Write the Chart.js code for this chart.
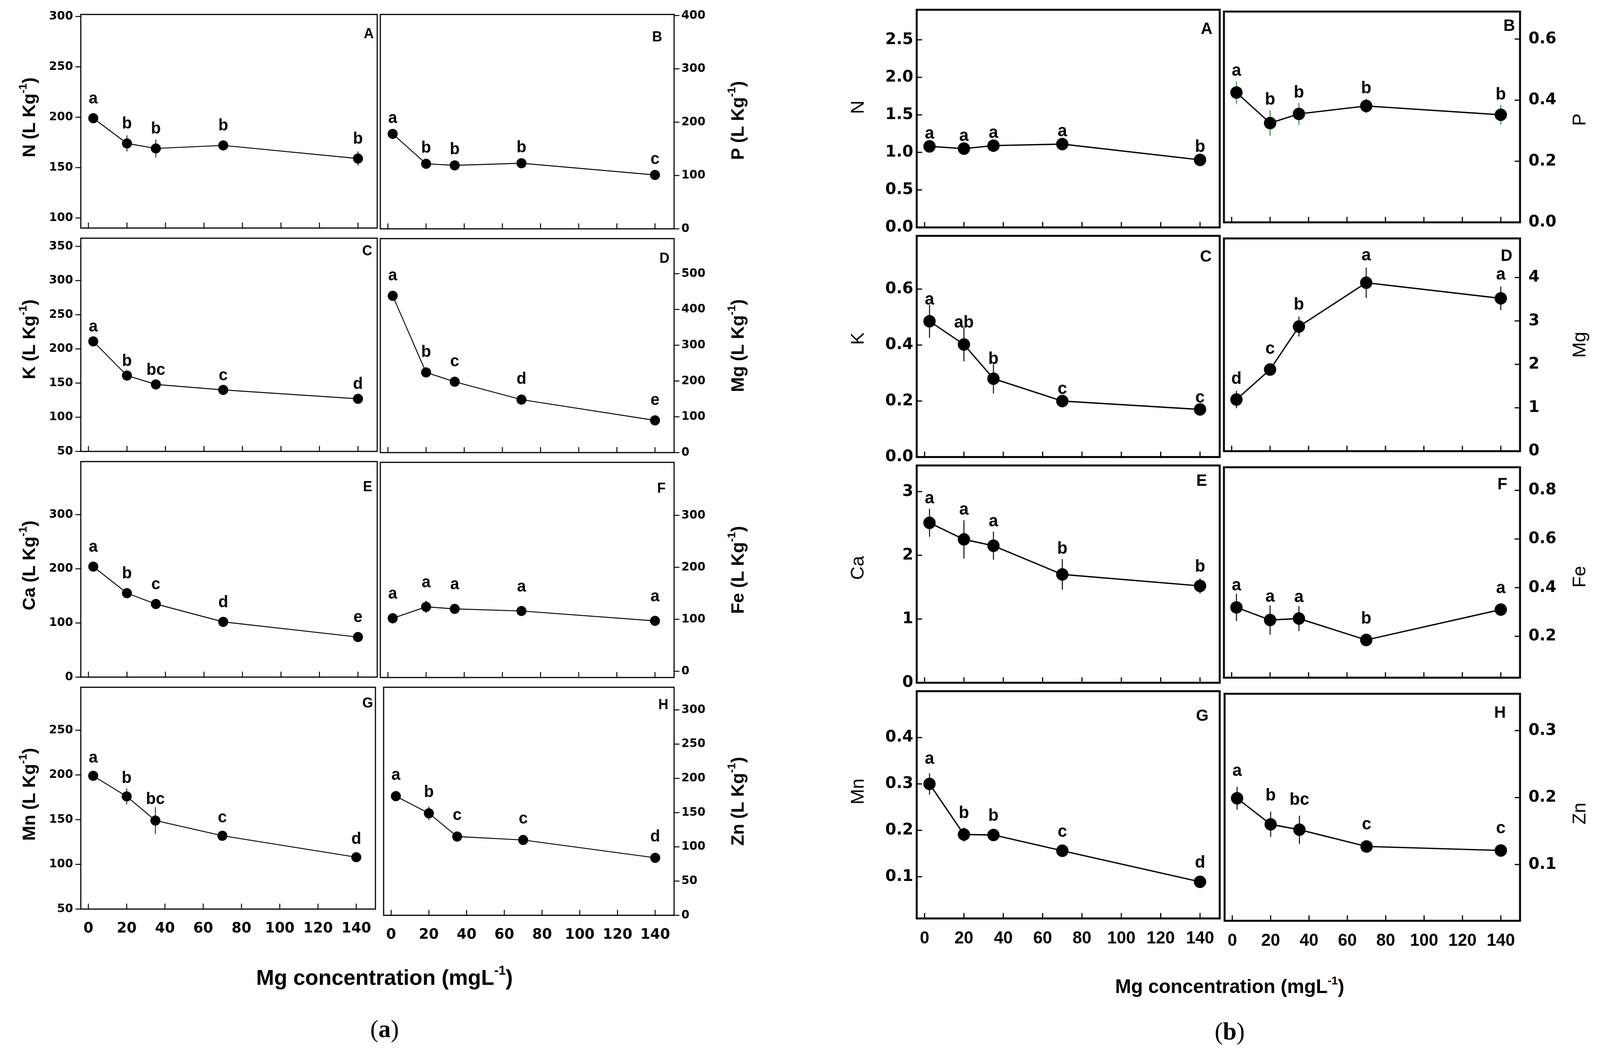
<!DOCTYPE html>
<html><head><meta charset="utf-8">
<script src="https://cdn.jsdelivr.net/npm/chart.js@4.4.1/dist/chart.umd.min.js"></script>
<style>
html,body{margin:0;padding:0;background:#fff;width:100%;height:100%;overflow:hidden;font-family:"Liberation Sans",Arial,sans-serif;}
#root{position:absolute;left:0;top:0;width:4161px;height:2694px;transform-origin:0 0;background:#fff;}
canvas{position:absolute;}
.xt{position:absolute;transform:translate(-50%,-50%);white-space:nowrap;font-weight:bold;color:#000;}
.xt sup{font-size:60%;vertical-align:0.75em;line-height:0;}
.cap{position:absolute;transform:translate(-50%,-50%);font-family:"Liberation Serif","Times New Roman",serif;white-space:nowrap;color:#000;}
</style></head><body>
<div id="root">
<div class="xt" style="left:1000px;top:2502px;font-size:56px">Mg concentration (mgL<sup>-1</sup>)</div>
<div class="xt" style="left:3198px;top:2526px;font-size:50px">Mg concentration (mgL<sup>-1</sup>)</div>
<div class="cap" style="left:1000px;top:2635px;font-size:64px">(<b>a</b>)</div>
<div class="cap" style="left:3198px;top:2641px;font-size:64px">(<b>b</b>)</div>
</div>
<script>
// ---------- DATA ----------
const xConc = [2.5, 20, 35, 70, 140];
const xTickValues = [0, 20, 40, 60, 80, 100, 120, 140];

// panel (a)  (L Kg-1)
const aN = [199, 174, 169, 172, 159];   const aN_err = [4, 8, 9, 5, 7];    const aN_sig = ['a','b','b','b','b'];   const aN_ticks = [100,150,200,250,300];
const aP = [178, 122, 119, 123, 101];   const aP_err = [5, 5, 4, 4, 4];    const aP_sig = ['a','b','b','b','c'];   const aP_ticks = [0,100,200,300,400];
const aK = [211, 161, 148, 140, 127];   const aK_err = [4, 5, 7, 4, 3];    const aK_sig = ['a','b','bc','c','d'];  const aK_ticks = [50,100,150,200,250,300,350];
const aMg = [438, 224, 198, 148, 90];   const aMg_err = [8, 8, 8, 6, 5];   const aMg_sig = ['a','b','c','d','e'];  const aMg_ticks = [0,100,200,300,400,500];
const aCa = [204, 155, 135, 102, 74];   const aCa_err = [5, 4, 4, 4, 3];   const aCa_sig = ['a','b','c','d','e'];  const aCa_ticks = [0,100,200,300];
const aFe = [102, 124, 120, 116, 97];   const aFe_err = [10, 12, 9, 6, 6]; const aFe_sig = ['a','a','a','a','a'];  const aFe_ticks = [0,100,200,300];
const aMn = [199, 176, 149, 132, 108];  const aMn_err = [5, 9, 15, 4, 3];  const aMn_sig = ['a','b','bc','c','d']; const aMn_ticks = [50,100,150,200,250];
const aZn = [174, 149, 115, 110, 84];   const aZn_err = [5, 10, 7, 4, 3];  const aZn_sig = ['a','b','c','c','d'];  const aZn_ticks = [0,50,100,150,200,250,300];

// panel (b)
const bN = [1.08, 1.05, 1.09, 1.11, 0.90];      const bN_err = [0.04, 0.03, 0.06, 0.03, 0.03];      const bN_sig = ['a','a','a','a','b'];   const bN_ticks = [0,0.5,1,1.5,2,2.5];
const bP = [0.425, 0.325, 0.355, 0.381, 0.352]; const bP_err = [0.037, 0.042, 0.036, 0.024, 0.032]; const bP_sig = ['a','b','b','b','b'];   const bP_ticks = [0,0.2,0.4,0.6];
const bK = [0.485, 0.402, 0.28, 0.20, 0.17];    const bK_err = [0.059, 0.06, 0.053, 0.02, 0.01];    const bK_sig = ['a','ab','b','c','c'];  const bK_ticks = [0,0.2,0.4,0.6];
const bMg = [1.19, 1.88, 2.87, 3.88, 3.52];     const bMg_err = [0.2, 0.1, 0.23, 0.35, 0.27];       const bMg_sig = ['d','c','b','a','a'];  const bMg_ticks = [0,1,2,3,4];
const bCa = [2.51, 2.25, 2.15, 1.70, 1.52];     const bCa_err = [0.22, 0.30, 0.22, 0.24, 0.12];     const bCa_sig = ['a','a','a','b','b'];  const bCa_ticks = [0,1,2,3];
const bFe = [0.319, 0.267, 0.273, 0.185, 0.31]; const bFe_err = [0.056, 0.06, 0.052, 0.015, 0.01];  const bFe_sig = ['a','a','a','b','a'];  const bFe_ticks = [0.2,0.4,0.6,0.8];
const bMn = [0.30, 0.191, 0.19, 0.156, 0.089];  const bMn_err = [0.023, 0.015, 0.005, 0.01, 0.005]; const bMn_sig = ['a','b','b','c','d'];  const bMn_ticks = [0.1,0.2,0.3,0.4];
const bZn = [0.199, 0.16, 0.152, 0.127, 0.121]; const bZn_err = [0.017, 0.019, 0.021, 0.005, 0.004];const bZn_sig = ['a','b','bc','c','c'];const bZn_ticks = [0.1,0.2,0.3];

// ---------- LAYOUT / STYLE ----------
const SANS = '"Liberation Sans", Arial, sans-serif';
const DEJA = '"DejaVu Sans", sans-serif';
const PA = {
  cols: [[210, 982], [988, 1753]],
  rows: [[37, 610, 1182, 1760, 2328], [37, 611, 1184, 1760, 2344]],
  yW: [180, 210], yPad: [20, 19], xPad: 28,
  xFont: {family: DEJA, size: 37, weight: 'bold'}, yFont: {family: DEJA, size: 30, weight: 'bold'},
  yTicksOut: true, tickLen: 14, tickW: 2.5, boxW: 3, lineW: 2.4, ptR: 13, errW: 2,
  sigFont: 42, letFont: 36, titleFont: 46, titleWeight: 'bold', unit: true, titleOff: [132, 168]
};
const PB = {
  cols: [[2384, 3176], [3179, 3953]],
  rows: [[25, 604, 1192, 1770, 2352], [23, 604, 1190, 1770, 2358]],
  yW: [190, 200], yPad: [9, 22], xPad: 25,
  xFont: {family: SANS, size: 44, weight: 'bold'}, yFont: {family: DEJA, size: 41, weight: 'bold'},
  yTicksOut: false, tickLen: 14, tickW: 3, boxW: 5, lineW: 3.4, ptR: 16, errW: 2.5,
  sigFont: 44, letFont: 42, titleFont: 48, titleWeight: 'normal', unit: false, titleOff: [151, 157]
};

const specs = [
  {P:PA,col:0,row:0,name:'N', vals:aN, err:aN_err, sig:aN_sig, ticks:aN_ticks, yr:[90,302], dec:0, letter:'A', lp:[9,51],  gaps:[38,4], tdy:-10},
  {P:PA,col:1,row:0,name:'P', vals:aP, err:aP_err, sig:aP_sig, ticks:aP_ticks, yr:[0,402],  dec:0, letter:'B', lp:[31,59], gaps:[28,4], tdy:-3},
  {P:PA,col:0,row:1,name:'K', vals:aK, err:aK_err, sig:aK_sig, ticks:aK_ticks, yr:[50,362], dec:0, letter:'C', lp:[13,34], gaps:[25,4], tdy:-14},
  {P:PA,col:1,row:1,name:'Mg',vals:aMg,err:aMg_err,sig:aMg_sig,ticks:aMg_ticks,yr:[0,598],  dec:0, letter:'D', lp:[12,52], gaps:[40,4], tdy:0},
  {P:PA,col:0,row:2,name:'Ca',vals:aCa,err:aCa_err,sig:aCa_sig,ticks:aCa_ticks,yr:[0,398],  dec:0, letter:'E', lp:[13,66], gaps:[38,4], tdy:-10},
  {P:PA,col:1,row:2,name:'Fe',vals:aFe,err:aFe_err,sig:aFe_sig,ticks:aFe_ticks,yr:[-12,402],dec:0, letter:'F', lp:[22,68], gaps:[50,18], tdy:0},
  {P:PA,col:0,row:3,name:'Mn',vals:aMn,err:aMn_err,sig:aMn_sig,ticks:aMn_ticks,yr:[50,298], dec:0, letter:'G', lp:[6,42],  gaps:[34,8], tdy:-10},
  {P:PA,col:1,row:3,name:'Zn',vals:aZn,err:aZn_err,sig:aZn_sig,ticks:aZn_ticks,yr:[0,333],  dec:0, letter:'H', lp:[15,46], gaps:[42,8], tdy:0},

  {P:PB,col:0,row:0,name:'N', vals:bN, err:bN_err, sig:bN_sig, ticks:bN_ticks, yr:[0,2.9],    dec:1, letter:'A', lp:[19,50], gaps:[20,6],  tdy:-29},
  {P:PB,col:1,row:0,name:'P', vals:bP, err:bP_err, sig:bP_sig, ticks:bP_ticks, yr:[0,0.69],   dec:1, letter:'B', lp:[13,38], gaps:[32,14], tdy:7, errColor:'#2e8b2e'},
  {P:PB,col:0,row:1,name:'K', vals:bK, err:bK_err, sig:bK_sig, ticks:bK_ticks, yr:[0,0.79],   dec:1, letter:'C', lp:[21,54], gaps:[18,0],  tdy:-20},
  {P:PB,col:1,row:1,name:'Mg',vals:bMg,err:bMg_err,sig:bMg_sig,ticks:bMg_ticks,yr:[0,4.9],    dec:0, letter:'D', lp:[20,46], gaps:[40,18], tdy:0},
  {P:PB,col:0,row:2,name:'Ca',vals:bCa,err:bCa_err,sig:bCa_sig,ticks:bCa_ticks,yr:[0,3.41],   dec:0, letter:'E', lp:[33,40], gaps:[36,14], tdy:-16},
  {P:PB,col:1,row:2,name:'Fe',vals:bFe,err:bFe_err,sig:bFe_sig,ticks:bFe_ticks,yr:[0.03,0.895],dec:1,letter:'F', lp:[33,45], gaps:[42,9],  tdy:11},
  {P:PB,col:0,row:3,name:'Mn',vals:bMn,err:bMn_err,sig:bMn_sig,ticks:bMn_ticks,yr:[0.01,0.5], dec:1, letter:'G', lp:[29,64], gaps:[36,24], tdy:-34},
  {P:PB,col:1,row:3,name:'Zn',vals:bZn,err:bZn_err,sig:bZn_sig,ticks:bZn_ticks,yr:[0.016,0.355],dec:1,letter:'H', lp:[37,50], gaps:[44,28], tdy:16}
];

// fit the 4161x2694 design into whatever viewport the browser gives
const root = document.getElementById('root');
root.style.transform = `scale(${window.innerWidth / 4161}, ${window.innerHeight / 2694})`;

function makeDeco(spec) {
  const P = spec.P, left = spec.col === 0;
  function line(ctx, x1, y1, x2, y2) { ctx.beginPath(); ctx.moveTo(x1, y1); ctx.lineTo(x2, y2); ctx.stroke(); }
  return {
    id: 'deco',
    beforeDatasetsDraw(chart) {
      const ctx = chart.ctx, xs = chart.scales.x, ys = chart.scales.y;
      ctx.save();
      ctx.strokeStyle = spec.errColor || '#000';
      ctx.lineWidth = P.errW;
      spec.vals.forEach((v, i) => {
        const px = xs.getPixelForValue(xConc[i]);
        line(ctx, px, ys.getPixelForValue(v + spec.err[i]), px, ys.getPixelForValue(v - spec.err[i]));
      });
      ctx.restore();
    },
    afterDatasetsDraw(chart) {
      const ctx = chart.ctx, xs = chart.scales.x, ys = chart.scales.y;
      const {left: L, right: R, top: T, bottom: B} = chart.chartArea;
      ctx.save();
      ctx.strokeStyle = '#000'; ctx.fillStyle = '#000';
      ctx.lineWidth = P.boxW;
      ctx.strokeRect(L, T, R - L, B - T);
      ctx.lineWidth = P.tickW;
      xTickValues.forEach(v => { const px = xs.getPixelForValue(v); line(ctx, px, B, px, B - P.tickLen); });
      spec.ticks.forEach(v => {
        const py = ys.getPixelForValue(v);
        if (P.yTicksOut) { if (left) line(ctx, L - P.tickLen, py, L, py); else line(ctx, R, py, R + P.tickLen, py); }
        else { if (left) line(ctx, L, py, L + P.tickLen, py); else line(ctx, R - P.tickLen, py, R, py); }
      });
      // significance letters
      ctx.font = `bold ${P.sigFont}px ${SANS}`;
      ctx.textAlign = 'center'; ctx.textBaseline = 'alphabetic';
      spec.vals.forEach((v, i) => {
        const px = xs.getPixelForValue(xConc[i]);
        const py = ys.getPixelForValue(v);
        const pe = ys.getPixelForValue(v + spec.err[i]);
        ctx.fillText(spec.sig[i], px, Math.min(py - spec.gaps[0], pe - spec.gaps[1]));
      });
      // panel letter
      ctx.font = `bold ${P.letFont}px ${SANS}`;
      ctx.textAlign = 'right'; ctx.textBaseline = 'middle';
      ctx.fillText(spec.letter, R - spec.lp[0], T + spec.lp[1]);
      // axis title (rotated)
      const cx = left ? L - P.titleOff[0] : R + P.titleOff[1];
      const cy = (T + B) / 2 + spec.tdy;
      ctx.translate(cx, cy); ctx.rotate(-Math.PI / 2);
      ctx.textAlign = 'left'; ctx.textBaseline = 'middle';
      const fMain = `${P.titleWeight} ${P.titleFont}px ${SANS}`;
      const fSup = `${P.titleWeight} ${Math.round(P.titleFont * 0.62)}px ${SANS}`;
      const main = P.unit ? spec.name + ' (L Kg' : spec.name;
      ctx.font = fMain;
      const w1 = ctx.measureText(main).width;
      const w3 = P.unit ? ctx.measureText(')').width : 0;
      ctx.font = fSup;
      const w2 = P.unit ? ctx.measureText('-1').width : 0;
      const x0 = -(w1 + w2 + w3) / 2;
      ctx.font = fMain; ctx.fillText(main, x0, 0);
      if (P.unit) {
        ctx.font = fSup; ctx.fillText('-1', x0 + w1, -P.titleFont * 0.36);
        ctx.font = fMain; ctx.fillText(')', x0 + w1 + w2, 0);
      }
      ctx.restore();
    }
  };
}

function addChart(spec) {
  const P = spec.P, left = spec.col === 0, bottom = spec.row === 3;
  const [L, R] = P.cols[spec.col];
  const rows = P.rows[spec.col];
  const T = rows[spec.row], B = rows[spec.row + 1];
  const yW = P.yW[spec.col];
  const padT = 40, padS = 12;
  const xH = bottom ? 110 : 12;
  const cw = (R - L) + yW + padS, ch = (B - T) + padT + xH;
  const cx = left ? L - yW : L - padS;
  const cy = T - padT;
  const cv = document.createElement('canvas');
  cv.width = cw; cv.height = ch;
  cv.style.left = cx + 'px'; cv.style.top = cy + 'px';
  cv.style.width = cw + 'px'; cv.style.height = ch + 'px';
  root.appendChild(cv);
  new Chart(cv, {
    type: 'line',
    data: { datasets: [{
      data: xConc.map((x, i) => ({x: x, y: spec.vals[i]})),
      borderColor: '#000', borderWidth: P.lineW, tension: 0, fill: false,
      pointRadius: P.ptR, pointBackgroundColor: '#000', pointBorderColor: '#000', pointBorderWidth: 0,
      clip: false
    }]},
    options: {
      responsive: false, animation: false, devicePixelRatio: 1,
      layout: { padding: { top: padT, bottom: 0, left: left ? 0 : padS, right: left ? padS : 0 } },
      plugins: { legend: {display: false}, tooltip: {enabled: false} },
      scales: {
        x: {
          type: 'linear', min: -4, max: 150, bounds: 'data',
          afterBuildTicks: s => { s.ticks = xTickValues.map(v => ({value: v})); },
          afterFit: s => { s.height = xH; },
          grid: {display: false, drawTicks: false}, border: {display: false},
          ticks: { display: bottom, autoSkip: false, maxRotation: 0, minRotation: 0, padding: P.xPad, color: '#000', font: P.xFont }
        },
        y: {
          type: 'linear', position: left ? 'left' : 'right', min: spec.yr[0], max: spec.yr[1], bounds: 'data',
          afterBuildTicks: s => { s.ticks = spec.ticks.map(v => ({value: v})); },
          afterFit: s => { s.width = yW; },
          grid: {display: false, drawTicks: false}, border: {display: false},
          ticks: { autoSkip: false, padding: P.yPad[spec.col], color: '#000', font: P.yFont,
                   callback: v => Number(v).toFixed(spec.dec) }
        }
      }
    },
    plugins: [makeDeco(spec)]
  });
}

specs.forEach(addChart);
</script>
</body></html>
